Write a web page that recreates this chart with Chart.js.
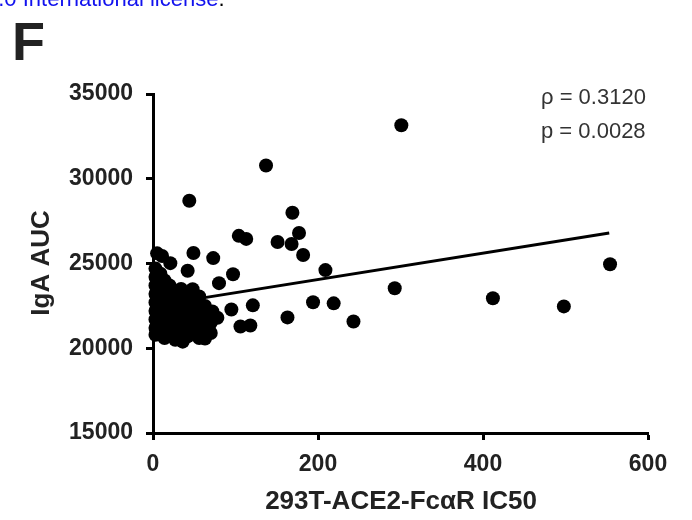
<!DOCTYPE html>
<html>
<head>
<meta charset="utf-8">
<script src="https://cdn.jsdelivr.net/npm/chart.js@4.4.1/dist/chart.umd.min.js"></script>
<style>
    html, body { margin: 0; padding: 0; background: #fff; }
    #wrap { width: 692px; height: 520px; position: relative; }
</style>
</head>
<body>
<div id="wrap"><canvas id="chart" width="692" height="520"></canvas></div>
<script>
// IC50 (x) and IgA AUC (y)
const ic50 = [
    301, 137, 44, 169, 177, 104, 113, 151, 168, 182,
    49, 73, 11, 5, 209, 293, 194, 219, 163, 243,
    412, 498, 554, 97, 80, 121, 95, 106, 118, 72,
    78, 21, 42, 63, 36,
    // dense cluster near zero
    3, 3, 3, 3, 3, 3, 3, 3, 3,
    9, 9, 9,
    14, 14, 14, 14, 14, 14,
    20, 20, 20, 20, 20,
    27, 27, 27, 27, 27, 27,
    34, 34, 34, 34, 34,
    42, 42, 42, 42, 42,
    48, 48, 48, 48, 48,
    56, 56, 56, 56, 56,
    63, 63, 63,
    70, 70,
];
const igaAuc = [
    33160, 30780, 28700, 27990, 26800, 26630, 26450, 26270, 26150, 25500,
    25620, 25320, 25440, 25600, 24610, 23540, 22710, 22650, 21820, 21580,
    22950, 22470, 24960, 24370, 23840, 22530, 22290, 21280, 21340, 22170,
    21800, 25020, 24570, 20570, 20390,
    24700, 24200, 23700, 23200, 22700, 22200, 21700, 21200, 20800,
    24400, 23000, 21500,
    24000, 23400, 22500, 21900, 21000, 20600,
    23700, 22900, 22300, 21400, 20800,
    23300, 22700, 22000, 21600, 21000, 20500,
    23500, 22900, 22300, 21700, 21100,
    23100, 22500, 21900, 21300, 20700,
    23480, 22700, 22100, 21500, 20900,
    23060, 22300, 21700, 21200, 20600,
    22500, 21900, 21300,
    21500, 20900,
];

// linear fit end points
const fitX = [0, 553];
const fitY = [22500, 26795];

const xTicks = [0, 200, 400, 600];
const yTicks = [15000, 20000, 25000, 30000, 35000];

const FONT = "'Liberation Sans', Arial, Helvetica, sans-serif";

const points = ic50.map((x, i) => ({ x, y: igaAuc[i] }));
const fitLine = fitX.map((x, i) => ({ x, y: fitY[i] }));

const textPlugin = {
    id: "figText",
    afterDraw(chart) {
        const ctx = chart.ctx;
        ctx.save();

        // source line cut off at the top of the crop
        ctx.font = "22px " + FONT;
        ctx.textBaseline = "alphabetic";
        ctx.textAlign = "left";
        ctx.fillStyle = "#1212ee";
        const src = "4.0 International license";
        ctx.fillText(src, -14, 6);
        ctx.fillStyle = "#000";
        ctx.fillText(".", -14 + ctx.measureText(src).width, 6);

        // panel letter
        ctx.fillStyle = "#222";
        ctx.font = "bold 54px " + FONT;
        ctx.fillText("F", 12, 60);

        // correlation stats
        ctx.fillStyle = "#333";
        ctx.font = "22px " + FONT;
        ctx.fillText("\u03c1 = 0.3120", 541, 104);
        ctx.fillText("p = 0.0028", 541, 138);

        // axis titles
        ctx.fillStyle = "#222";
        ctx.font = "bold 26px " + FONT;
        ctx.textAlign = "center";
        ctx.textBaseline = "middle";
        ctx.fillText("293T-ACE2-Fc\u03b1R IC50", 401, 502);

        ctx.translate(42, 263);
        ctx.rotate(-Math.PI / 2);
        ctx.fillText("IgA AUC", 0, 0);

        ctx.restore();
    },
};

new Chart(document.getElementById("chart"), {
    type: "scatter",
    data: {
        datasets: [
            {
                data: points,
                pointRadius: 7,
                pointHoverRadius: 7,
                pointBackgroundColor: "#000",
                pointBorderWidth: 0,
                clip: false,
            },
            {
                type: "line",
                data: fitLine,
                borderColor: "#000",
                borderWidth: 3,
                pointRadius: 0,
                fill: false,
                clip: false,
            },
        ],
    },
    options: {
        responsive: false,
        animation: false,
        events: [],
        layout: { padding: { top: 94, right: 44, left: 0, bottom: 0 } },
        plugins: {
            legend: { display: false },
            tooltip: { enabled: false },
        },
        scales: {
            x: {
                type: "linear",
                min: 0,
                max: 600,
                afterBuildTicks: (scale) => {
                    scale.ticks = xTicks.map((v) => ({ value: v }));
                },
                afterFit: (scale) => {
                    scale.height = 87;
                },
                border: { display: true, color: "#000", width: 3 },
                grid: {
                    drawOnChartArea: false,
                    drawTicks: true,
                    tickLength: 7,
                    tickWidth: 3,
                    tickColor: "#000",
                },
                ticks: {
                    color: "#222",
                    padding: 11,
                    font: { family: FONT, size: 23, weight: "bold" },
                },
            },
            y: {
                type: "linear",
                min: 15000,
                max: 35000,
                afterBuildTicks: (scale) => {
                    scale.ticks = yTicks.map((v) => ({ value: v }));
                },
                afterFit: (scale) => {
                    scale.width = 153;
                },
                border: { display: true, color: "#000", width: 3 },
                grid: {
                    drawOnChartArea: false,
                    drawTicks: true,
                    tickLength: 7,
                    tickWidth: 3,
                    tickColor: "#000",
                },
                ticks: {
                    color: "#222",
                    padding: 13,
                    callback: (v) => String(v),
                    font: { family: FONT, size: 23, weight: "bold" },
                },
            },
        },
    },
    plugins: [textPlugin],
});
</script>
</body>
</html>
